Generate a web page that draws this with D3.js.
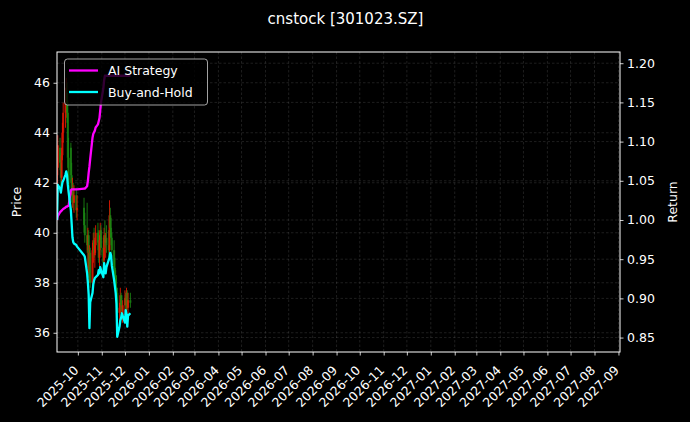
<!DOCTYPE html>
<html>
<head>
<meta charset="utf-8">
<script src="https://cdn.jsdelivr.net/npm/d3@7"></script>
<style>
  html, body { margin: 0; padding: 0; background: #000; }
  svg { display: block; font-family: "DejaVu Sans", sans-serif; }
</style>
</head>
<body>
<script>
// trading days shown on the chart
const dates = [
  '2025-09-04','2025-09-05','2025-09-08','2025-09-09','2025-09-10','2025-09-11','2025-09-12',
  '2025-09-15','2025-09-16','2025-09-17','2025-09-18','2025-09-19','2025-09-22','2025-09-23',
  '2025-09-24','2025-09-25','2025-09-26','2025-09-29','2025-09-30',
  '2025-10-09','2025-10-10','2025-10-13','2025-10-14','2025-10-15','2025-10-16','2025-10-17',
  '2025-10-20','2025-10-21','2025-10-22','2025-10-23','2025-10-24','2025-10-27','2025-10-28',
  '2025-10-29','2025-10-30','2025-10-31',
  '2025-11-03','2025-11-04','2025-11-05','2025-11-06','2025-11-07','2025-11-10','2025-11-11',
  '2025-11-12','2025-11-13','2025-11-14','2025-11-17','2025-11-18','2025-11-19','2025-11-20',
  '2025-11-21','2025-11-24','2025-11-25','2025-11-26','2025-11-27','2025-11-28',
  '2025-12-01','2025-12-02','2025-12-03','2025-12-04','2025-12-05','2025-12-08'
]
const open = [
  41.9,42.6,43.4,42.8,42.2,43.1,44.0,44.8,45.3,45.6,44.8,43.0,43.4,42.3,41.5,41.8,41.2,41.5,40.9,
  41.0,40.3,39.9,39.3,39.9,38.4,39.2,38.0,39.3,39.7,39.1,39.5,40.0,39.6,39.0,39.7,40.1,
  39.4,38.9,39.9,39.6,39.8,39.5,39.3,40.7,40.2,39.8,39.3,38.6,38.2,37.8,37.6,36.8,37.0,37.5,37.1,36.7,
  37.1,37.4,37.1,37.6,37.0,37.3
]
const high = [
  43.0,43.9,43.8,43.2,43.4,44.4,45.2,45.8,46.2,46.0,45.3,43.8,43.6,42.8,42.2,42.0,41.9,41.8,41.5,
  41.4,40.8,41.2,40.2,40.1,39.5,39.4,39.6,40.0,40.2,39.8,40.3,40.4,40.1,39.9,40.4,40.3,
  39.8,40.2,40.5,40.0,40.3,40.1,41.3,41.0,40.6,40.0,39.7,39.0,38.5,38.3,37.8,37.2,37.8,37.6,37.5,37.3,
  37.7,37.6,37.8,37.7,37.6,37.6
]
const low = [
  41.6,42.3,42.5,41.8,42.0,42.9,43.6,44.2,44.6,44.4,42.6,41.2,42.0,41.2,41.0,40.9,40.8,40.6,40.5,
  40.0,39.6,39.2,38.6,38.2,38.0,37.8,37.9,38.8,39.0,38.6,39.2,39.3,38.8,38.6,39.3,39.1,
  38.5,38.7,39.4,39.0,39.2,39.0,38.9,39.8,39.5,39.0,38.4,37.9,37.5,37.3,36.6,36.2,36.8,36.9,36.5,36.4,
  36.8,36.9,36.8,36.9,36.7,37.0
]
const close = [
  42.6,43.5,42.8,42.2,43.1,44.0,44.8,45.3,45.6,44.8,43.0,41.8,42.3,41.5,41.8,41.2,41.5,40.9,41.0,
  40.3,39.9,39.5,39.9,38.5,39.2,38.0,39.3,39.7,39.2,39.5,40.0,39.6,39.0,39.7,40.1,39.4,
  38.8,39.9,39.6,39.8,39.5,39.3,40.7,40.2,39.8,39.3,38.6,38.2,37.8,37.6,36.8,37.0,37.5,37.1,36.7,37.1,
  37.4,37.1,37.6,37.0,37.3,37.2
]
const aiReturn = [
  1.000,1.005,1.010,1.011,1.012,1.013,1.014,1.016,1.017,1.017,1.018,1.018,1.038,1.039,1.039,1.039,1.039,1.039,1.039,
  1.040,1.040,1.043,1.050,1.060,1.068,1.078,1.105,1.110,1.112,1.114,1.118,1.122,1.126,1.130,1.140,1.150,
  1.168,1.178,1.184,1.184,1.184,1.184,1.184,1.184,1.184,1.184,1.184,1.184,1.184,1.184,1.184,1.184,1.184,1.184,1.184,1.184,
  1.184,1.184,1.184,1.184,1.184,1.184
]
const bhReturn = [
  1.000,1.045,1.040,1.035,1.042,1.048,1.050,1.058,1.062,1.057,1.045,1.036,1.012,0.995,0.978,0.972,0.970,0.968,0.966,
  0.955,0.953,0.932,0.920,0.905,0.862,0.895,0.907,0.918,0.923,0.926,0.927,0.930,0.936,0.932,0.940,0.936,
  0.927,0.945,0.938,0.932,0.940,0.949,0.952,0.958,0.955,0.942,0.923,0.915,0.907,0.893,0.851,0.864,0.872,0.875,0.881,0.878,
  0.869,0.885,0.880,0.864,0.878,0.881
]
const priceTicks = [36, 38, 40, 42, 44, 46]
const returnTicks = [0.85, 0.90, 0.95, 1.00, 1.05, 1.10, 1.15, 1.20]
const monthLabels = [
  '2025-10','2025-11','2025-12','2026-01','2026-02','2026-03','2026-04','2026-05','2026-06',
  '2026-07','2026-08','2026-09','2026-10','2026-11','2026-12','2027-01','2027-02','2027-03',
  '2027-04','2027-05','2027-06','2027-07','2027-08','2027-09'
]
const seriesNames = ['AI Strategy', 'Buy-and-Hold']
const seriesColors = ['#ff00ff', '#00ffff']

const w = 690
const h = 422
const padL = 57, padR = 620, padT = 52, padB = 352
const parseDay = d3.timeParse('%Y-%m-%d')
const parseMonth = d3.timeParse('%Y-%m')
const days = dates.map(parseDay)
const monthTicks = monthLabels.map(parseMonth)

const svg = d3.select('body')
  .append('svg')
  .attr('width', w)
  .attr('height', h)

svg.append('rect').attr('width', w).attr('height', h).attr('fill', '#000')

const xScale = d3.scaleTime()
  .domain([new Date(2025, 8, 4), new Date(2027, 8, 3)])
  .range([padL, padR])
const yPrice = d3.scaleLinear().domain([35.23, 47.23]).range([padB, padT])
const yRet = d3.scaleLinear().domain([0.8316, 1.2143]).range([padB, padT])

svg.append('clipPath').attr('id', 'plot')
  .append('rect').attr('x', padL).attr('y', padT)
  .attr('width', padR - padL).attr('height', padB - padT)

// grid, both y axes + months
const grid = svg.append('g')
  .attr('stroke', '#808080').attr('stroke-opacity', 0.4)
  .attr('stroke-width', 0.6).attr('stroke-dasharray', '2.5,2')
grid.selectAll('.gx').data(monthTicks).enter().append('line')
  .attr('x1', d => xScale(d)).attr('x2', d => xScale(d))
  .attr('y1', padT).attr('y2', padB)
grid.selectAll('.gp').data(priceTicks).enter().append('line')
  .attr('x1', padL).attr('x2', padR)
  .attr('y1', d => yPrice(d)).attr('y2', d => yPrice(d))
grid.selectAll('.gr').data(returnTicks).enter().append('line')
  .attr('x1', padL).attr('x2', padR)
  .attr('y1', d => yRet(d)).attr('y2', d => yRet(d))

const plot = svg.append('g').attr('clip-path', 'url(#plot)')

// candles
const upCol = '#f01800', downCol = '#1c8c14'
const candles = plot.selectAll('.candle')
  .data(days)
  .enter()
  .append('g')
  .attr('opacity', 0.85)
candles.append('line')
  .attr('x1', d => xScale(d)).attr('x2', d => xScale(d))
  .attr('y1', (d, i) => yPrice(high[i])).attr('y2', (d, i) => yPrice(low[i]))
  .attr('stroke', (d, i) => close[i] >= open[i] ? upCol : downCol)
  .attr('stroke-width', 1)
candles.append('rect')
  .attr('x', d => xScale(d) - 1)
  .attr('width', 2)
  .attr('y', (d, i) => yPrice(Math.max(open[i], close[i])))
  .attr('height', (d, i) => Math.max(0.6, Math.abs(yPrice(open[i]) - yPrice(close[i]))))
  .attr('fill', (d, i) => close[i] >= open[i] ? upCol : downCol)

// return lines
const series = [aiReturn, bhReturn]
series.forEach((vals, k) => {
  const line = d3.line()
    .x((d, i) => xScale(days[i]))
    .y(d => yRet(d))
  plot.append('path')
    .datum(vals)
    .attr('fill', 'none')
    .attr('stroke', seriesColors[k])
    .attr('stroke-width', 2.3)
    .attr('stroke-linejoin', 'round')
    .attr('d', line)
})

// axes
const styleAxis = g => {
  g.selectAll('.domain').remove()
  g.selectAll('line').attr('stroke', '#fff').attr('stroke-width', 0.8)
  g.selectAll('text').attr('fill', '#fff').style('font-size', '12.5px')
    .style('font-family', '"DejaVu Sans", sans-serif')
}
svg.append('g')
  .attr('transform', `translate(${padL},0)`)
  .call(d3.axisLeft(yPrice).tickValues(priceTicks).tickSize(3.5).tickPadding(3.5).tickFormat(d3.format('d')))
  .call(styleAxis)
svg.append('g')
  .attr('transform', `translate(${padR},0)`)
  .call(d3.axisRight(yRet).tickValues(returnTicks).tickSize(3.5).tickPadding(3.5).tickFormat(d3.format('.2f')))
  .call(styleAxis)
const xAxis = svg.append('g')
  .attr('transform', `translate(0,${padB})`)
  .call(d3.axisBottom(xScale).tickValues(monthTicks).tickSize(3.5).tickFormat(d3.timeFormat('%Y-%m')))
  .call(styleAxis)
xAxis.selectAll('text')
  .attr('text-anchor', 'end')
  .attr('dy', null)
  .attr('y', null)
  .attr('transform', 'translate(1,19) rotate(-45)')

// spines
svg.append('rect')
  .attr('x', padL).attr('y', padT)
  .attr('width', padR - padL).attr('height', padB - padT)
  .attr('fill', 'none').attr('stroke', '#fff').attr('stroke-width', 1)

// labels
svg.append('text')
  .attr('x', (padL + padR) / 2 + 7).attr('y', 24)
  .attr('text-anchor', 'middle').attr('fill', '#fff')
  .style('font-size', '15px')
  .text('cnstock [301023.SZ]')
svg.append('text')
  .attr('transform', `translate(21,${(padT + padB) / 2}) rotate(-90)`)
  .attr('text-anchor', 'middle').attr('fill', '#fff')
  .style('font-size', '12.5px')
  .text('Price')
svg.append('text')
  .attr('transform', `translate(677,${(padT + padB) / 2}) rotate(-90)`)
  .attr('text-anchor', 'middle').attr('fill', '#fff')
  .style('font-size', '12.5px')
  .text('Return')

// legend
const legend = svg.append('g')
legend.append('rect')
  .attr('x', 64.5).attr('y', 59).attr('width', 143).attr('height', 46)
  .attr('rx', 3)
  .attr('fill', '#000').attr('fill-opacity', 0.8)
  .attr('stroke', '#ccc').attr('stroke-width', 0.8)
seriesNames.forEach((name, k) => {
  const yy = 70.5 + k * 21.5
  legend.append('line')
    .attr('x1', 69).attr('x2', 98).attr('y1', yy).attr('y2', yy)
    .attr('stroke', seriesColors[k]).attr('stroke-width', 2.3)
  legend.append('text')
    .attr('x', 108).attr('y', yy + 4.5)
    .attr('fill', '#fff').style('font-size', '12.5px')
    .text(name)
})
</script>
</body>
</html>
